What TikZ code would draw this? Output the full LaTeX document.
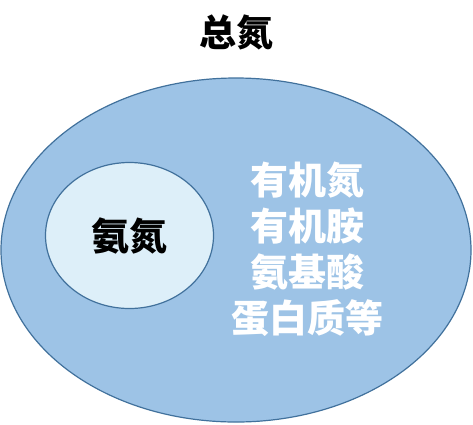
\documentclass[tikz,border=0pt]{standalone}
\usepackage{fontspec}
\newfontfamily\cjk{Noto Sans CJK SC}
\usetikzlibrary{shapes.geometric}
\definecolor{outerfill}{HTML}{9DC3E6}
\definecolor{innerfill}{HTML}{DDEFF9}
\definecolor{rimblue}{HTML}{41719C}
\tikzstyle{total} = [ellipse, minimum width=470pt, minimum height=344pt, inner sep=0pt, draw=rimblue, line width=1.2pt, fill=outerfill]
\tikzstyle{ammonia} = [ellipse, minimum width=168pt, minimum height=146pt, inner sep=0pt, draw=rimblue, line width=1.2pt, fill=innerfill]
\tikzstyle{label} = [font=\cjk\bfseries\fontsize{37}{46}\selectfont, text centered, align=center, inner sep=0pt]

\begin{document}
\begin{tikzpicture}[x=1pt, y=-1pt]
\useasboundingbox (0,0) rectangle (473,424);
\node (title) [label] at (236,32) {总氮};
\node (outer) [total] at (236,250) {};
\node (inner) [ammonia] at (129.5,235.5) {};
\node (nh) [label, font=\cjk\bfseries\fontsize{38}{46}\selectfont] at (inner.center) {氨氮};
\node (organic) [label, font=\cjk\bfseries\fontsize{38}{46}\selectfont, text=white] at (307,249) {有机氮\\有机胺\\氨基酸\\蛋白质等};
\end{tikzpicture}
\end{document}
